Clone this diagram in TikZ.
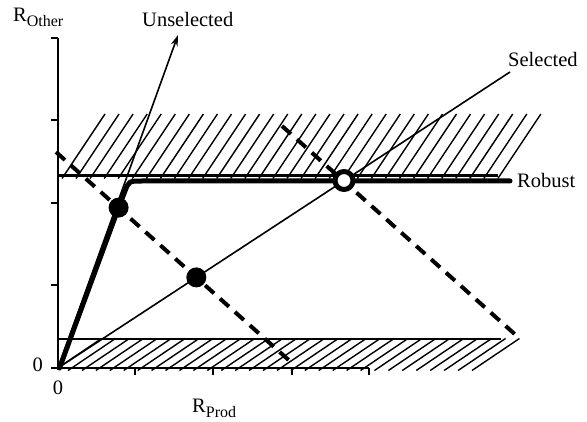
\documentclass[tikz,border=0pt]{standalone}
\usepackage{fontspec}
\setmainfont{Liberation Serif}
\usetikzlibrary{arrows.meta}
\begin{document}
\begin{tikzpicture}[x=1pt,y=-1pt,line join=round,>={Stealth[length=11pt,width=7pt]},
	every node/.style={font=\fontsize{20.5}{24}\selectfont,inner sep=0pt},
	axis/.style={line width=1.6pt},
	hatch/.style={line width=1.4pt},
	bound/.style={line width=2.2pt},
	ray/.style={line width=1.6pt},
	robust/.style={line width=5pt,line cap=round},
	budget/.style={line width=4pt,dash pattern=on 12pt off 8pt},
	dot/.style={circle,fill=black,minimum size=20pt},
	opendot/.style={circle,draw=black,fill=white,line width=5pt,minimum size=18pt}]
	\useasboundingbox (0,0) rectangle (587,422);
	% key points
	\coordinate (O) at (58,368);
	\coordinate (yTop) at (58,38);
	\coordinate (xEnd) at (369,368);
	\coordinate (selEnd) at (510,72);
	\coordinate (unselTip) at (178,35);
	\coordinate (robStart) at (59.5,368);
	\coordinate (robEnd) at (510,181);
	\coordinate (budAstart) at (56,152);
	\coordinate (budAend) at (292,363);
	\coordinate (budBstart) at (282,126);
	\coordinate (budBend) at (518,337);
	% hatched regions
	\foreach \k in {0,...,31}
	\draw[hatch] ({62+14.06*\k},178.5) -- ++(43,-64.5);
	\begin{scope}
		\clip (58,330) rectangle (530,372);
		\foreach \k in {-1,...,29}
		\draw[hatch] ({68+13.93*\k},370.5) -- ++(47.5,-32);
	\end{scope}
	\draw[bound] (58,175.5) -- (498,175.5);
	\draw[bound] (58,339) -- (501,339);
	% axes
	\draw[axis] (yTop) -- (58,370);
	\draw[axis] (56,368) -- (xEnd);
	\foreach \y in {38,120,203,285,368}
	\draw[axis] (51,\y) -- (58,\y);
	\foreach \x in {135,213,292,369}
	\draw[axis] (\x,368) -- (\x,375);
	\node[anchor=base west] (lblOther) at (13,22) {R\raisebox{-5pt}{\fontsize{16}{18}\selectfont Other}};
	\node[anchor=base west] (lblProd) at (192,413) {R\raisebox{-5pt}{\fontsize{16}{18}\selectfont Prod}};
	\node[anchor=base east] (zeroY) at (43,372) {0};
	\node[anchor=base] (zeroX) at (58,395) {0};
	% rays
	\draw[ray] (O) -- (selEnd);
	\draw[ray,->] (O) -- (unselTip);
	\node[anchor=base west] (lblSel) at (508,67) {Selected};
	\node[anchor=base west] (lblUnsel) at (142,27) {Unselected};
	% budget lines
	\draw[budget] (budAstart) -- (budAend);
	\draw[budget] (budBstart) -- (budBend);
	% robust path
	\coordinate (dotA) at (118.6,207.6);
	\coordinate (dotB) at (196.3,277.4);
	\coordinate (dotC) at (344,180.5);
	\draw[robust] (robStart) -- (dotA) -- (125,191) .. controls (129,181) .. (142,181) -- (robEnd);
	\node[anchor=base west] (lblRob) at (517,188) {Robust};
	\node[dot] (ptA) at (dotA) {};
	\node[dot] (ptB) at (dotB) {};
	\node[opendot] (ptC) at (dotC) {};
\end{tikzpicture}
\end{document}
